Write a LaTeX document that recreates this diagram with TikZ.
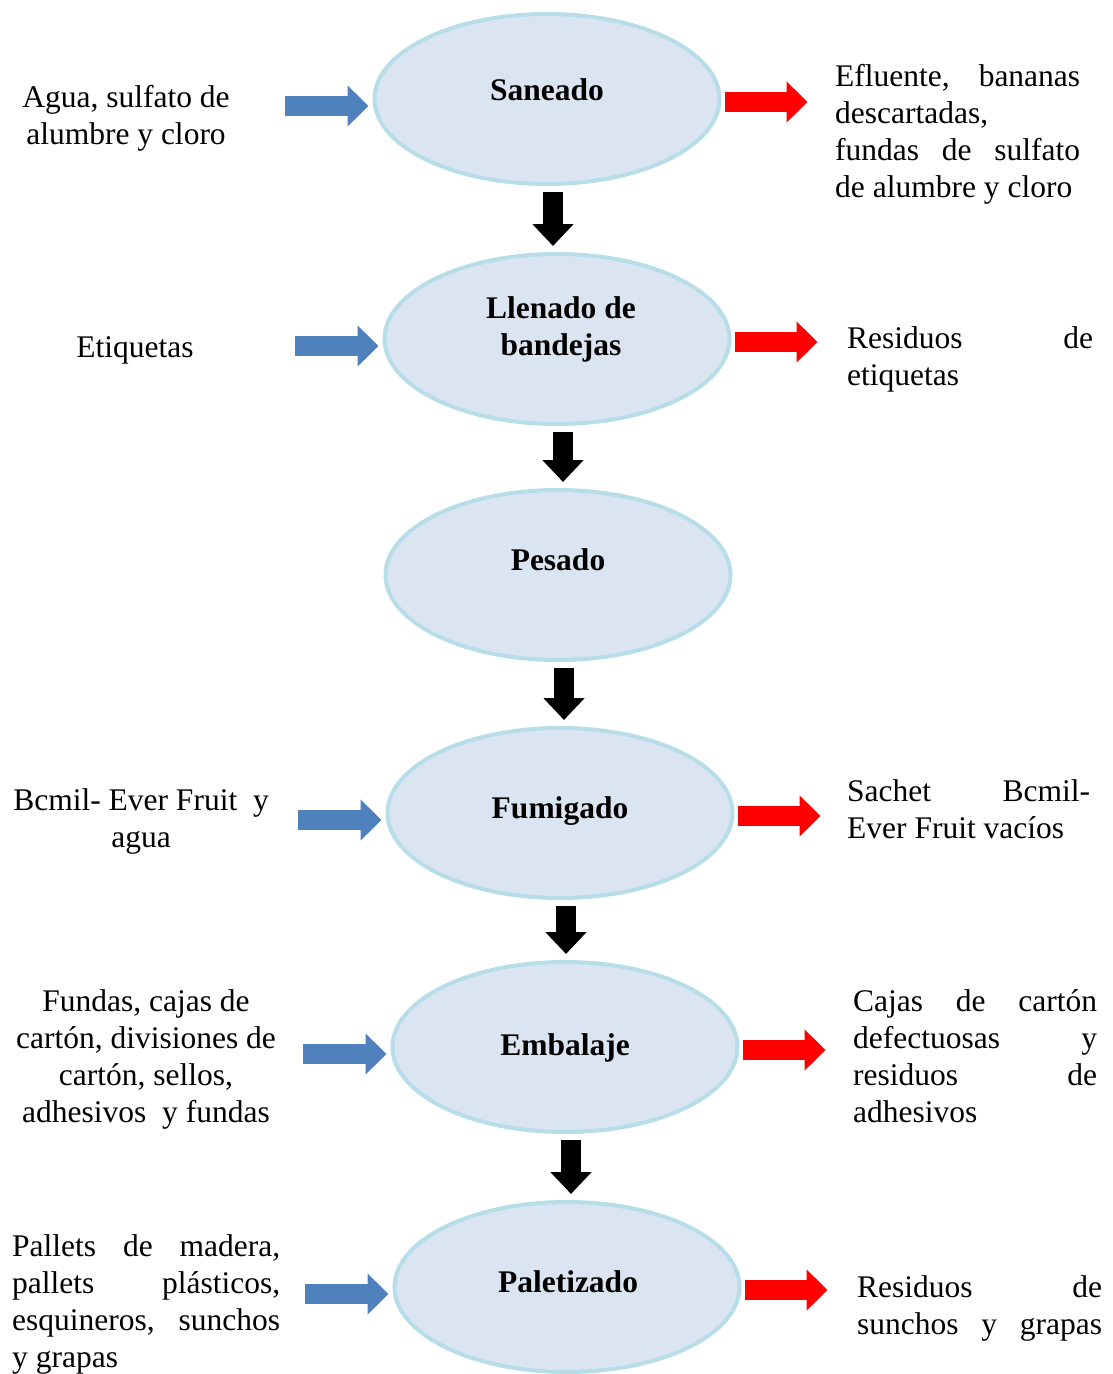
\documentclass[tikz,border=0pt]{standalone}
\usepackage{fontspec}
\setmainfont{Liberation Serif}
\usepackage{tikz}
\usetikzlibrary{positioning}
\usetikzlibrary{arrows.meta, shapes.geometric}

\definecolor{procfill}{HTML}{DBE5F1}
\definecolor{procline}{HTML}{B7DDE8}
\definecolor{inblue}{HTML}{4F81BD}
\definecolor{outred}{HTML}{FF0000}

\begin{document}
\begin{tikzpicture}[x=1pt,y=-1pt]
 \tikzset{process/.style={
 		ellipse,
 		draw=procline, fill=procfill,
 		line width=4pt,
 		minimum width=345pt, minimum height=170pt,
 		inner sep=0pt
 	},
 	step title/.style={
 		font=\fontsize{31.5}{37}\selectfont\bfseries,
 		align=center, anchor=base, inner sep=0pt
 	},
 	left text/.style={
 		font=\fontsize{31.5}{37}\selectfont,
 		align=center, anchor=base, inner sep=0pt
 	},
 	right text/.style={
 		font=\fontsize{31.5}{37}\selectfont,
 		text width=#1, align=justify, anchor=base west, inner sep=0pt
 	},
 	right text/.default=245pt,
 	in arrow/.style={draw=inblue, line width=20pt, -{Triangle[width=40pt,length=21pt]}},
 	out arrow/.style={draw=outred, line width=20pt, -{Triangle[width=40pt,length=21pt]}},
 	down arrow/.style={draw=black, line width=20pt, -{Triangle[width=40pt,length=22pt]}}
 }
 \useasboundingbox (0,0) rectangle (1112,1374);

 % process steps
 \node[process] (s1) at (547,99) {};
 \node[process] (s2) at (557,339) {};
 \node[process] (s3) at (558,575) {};
 \node[process] (s4) at (560,813) {};
 \node[process] (s5) at (565,1047) {};
 \node[process] (s6) at (567,1287) {};

 % (centred nodes sit on their last line)
 \node[step title] (t1) at (547,100) {Saneado};
 \node[step title] (t2) at (561,355) {Llenado de\\bandejas};
 \node[step title] (t3) at (558,570) {Pesado};
 \node[step title] (t4) at (560,818) {Fumigado};
 \node[step title] (t5) at (565,1055) {Embalaje};
 \node[step title] (t6) at (568,1292) {Paletizado};

 % inputs
 \node[left text] (l1) at (126,144.5) {Agua, sulfato de\\alumbre y cloro};
 \node[left text] (l2) at (135,357.5) {Etiquetas};
 \node[left text] (l4) at (141,847.5) {Bcmil- Ever Fruit\ \ y\\agua};
 \node[left text] (l5) at (146,1122.5) {Fundas, cajas de\\cartón, divisiones de\\cartón, sellos,\\adhesivos\ \ y fundas};
 \node[right text=268pt] (l6) at (12,1256.5) {Pallets de madera,\linebreak pallets plásticos,\linebreak esquineros, sunchos\linebreak y grapas};

 % outputs
 \node[right text] (r1) at (835,86.5) {Efluente, bananas\linebreak descartadas,\\fundas de sulfato\linebreak de alumbre y cloro};
 \node[right text=246pt] (r2) at (847,348.5) {Residuos de\linebreak etiquetas};
 \node[right text=243pt] (r4) at (847,801.5) {Sachet Bcmil-\linebreak Ever Fruit vacíos};
 \node[right text=244pt] (r5) at (853,1011.5) {Cajas de cartón\linebreak defectuosas y\linebreak residuos de\linebreak adhesivos};
 \node[right text] (r6) at (857,1297.5) {Residuos de\linebreak sunchos\hfill y\hfill grapas};

 % arrows
 \foreach \n in {s1,s2,s4,s5,s6}
 	\draw[in arrow] ([shift={(-88,7)}]\n.west) -- ([shift={(-4,7)}]\n.west);
 \foreach \n in {s1,s2,s4,s5,s6}
 	\draw[out arrow] ([shift={(3,3)}]\n.east) -- ([shift={(86,3)}]\n.east);
 \foreach \a/\b in {s1/s2,s2/s3,s3/s4,s4/s5,s5/s6}
 	\draw[down arrow] ([shift={(6,6)}]\a.south) -- ([shift={(6,-6)}]\a.south |- \b.north);
\end{tikzpicture}
\end{document}
